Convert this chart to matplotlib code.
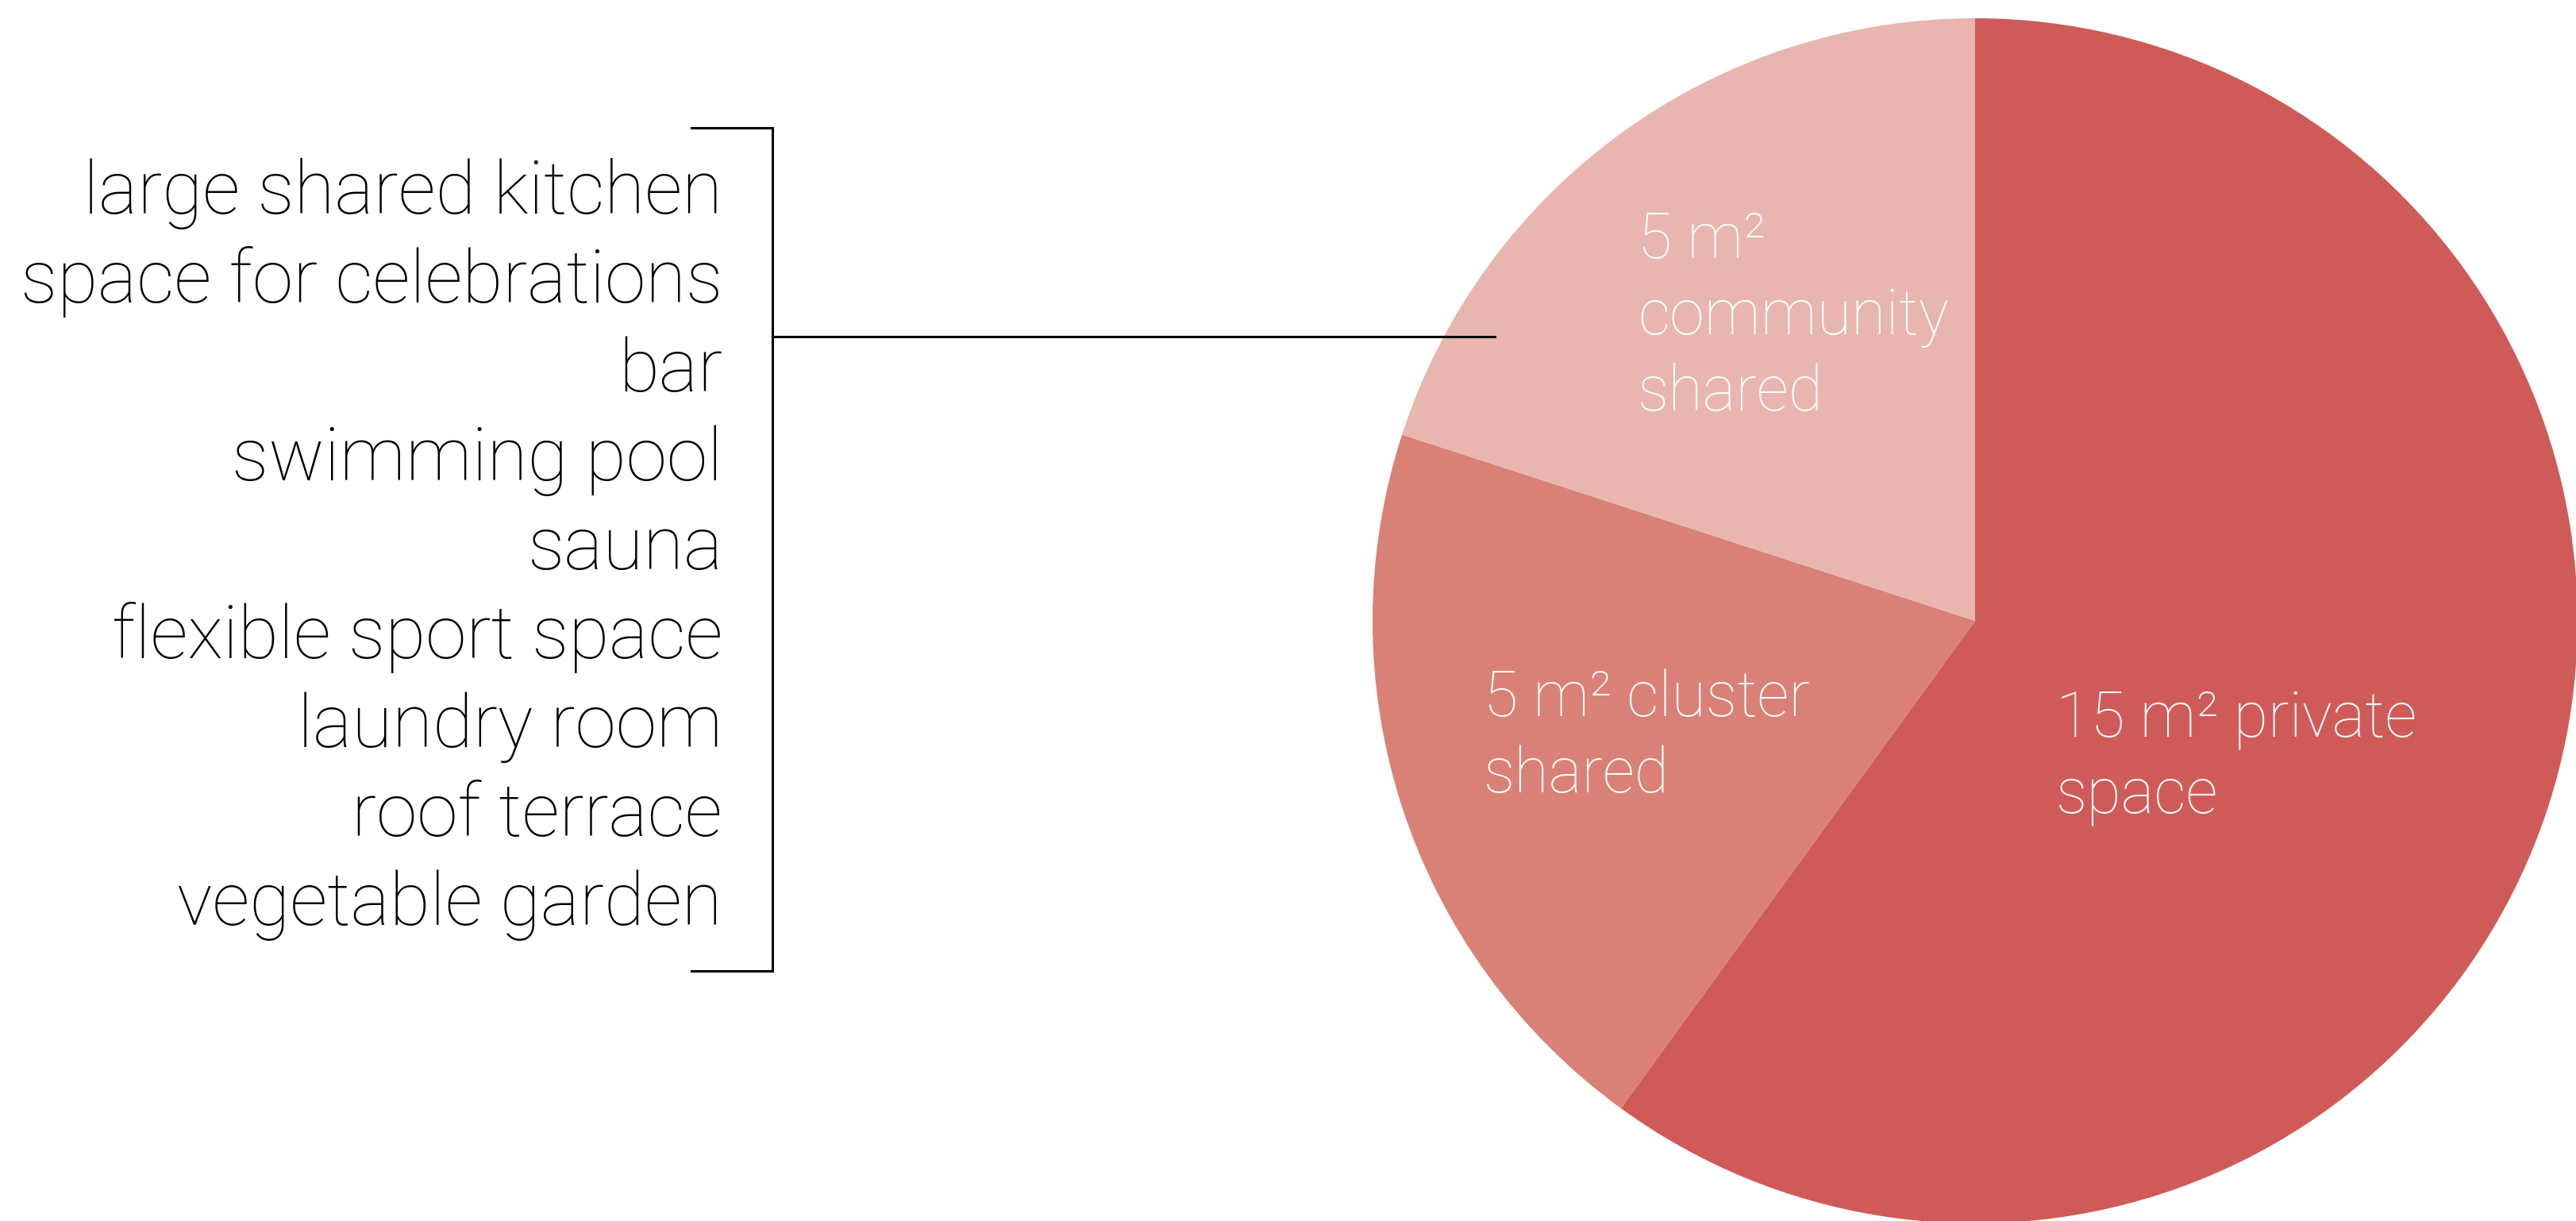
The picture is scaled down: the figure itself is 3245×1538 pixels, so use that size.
import matplotlib
matplotlib.use("Agg")
import matplotlib.pyplot as plt

# areas per person, clockwise from the top
areas = [15, 5, 5]
slice_colors = ["#CF5B59", "#D98176", "#E8B6AE"]
slice_labels = [["15 m² private", "space"],
                ["5 m² cluster", "shared"],
                ["5 m²", "community", "shared"]]

community_uses = ["large shared kitchen", "space for celebrations", "bar",
                  "swimming pool", "sauna", "flexible sport space",
                  "laundry room", "roof terrace", "vegetable garden"]

W, H = 3245, 1538
fig = plt.figure(figsize=(W / 100, H / 100), dpi=100)
ax = fig.add_axes([0, 0, 1, 1])

cx, cy, r = 2488, H - 782, 759
ax.pie(areas, colors=slice_colors, startangle=90, counterclock=False,
       center=(cx, cy), radius=r, wedgeprops=dict(linewidth=0))
ax.set_xlim(0, W)
ax.set_ylim(0, H)
ax.set_aspect("equal")
ax.axis("off")

font = dict(family="Roboto", fontweight=100, color="white", fontsize=57)

# labels inside the slices (x, first baseline in pixels from the top)
label_pos = [(2590, 927), (1869, 902), (2063, 325)]
for (x, y0), lines in zip(label_pos, slice_labels):
    for i, line in enumerate(lines):
        ax.text(x, H - (y0 + 96 * i), line, ha="left", va="baseline", **font)

# list of shared community rooms
for i, item in enumerate(community_uses):
    ax.text(910, H - (269 + 112 * i), item, ha="right", va="baseline",
            family="Roboto", fontweight=100, color="black", fontsize=67)

# bracket grouping the list, with a leader into the community slice
bx, top, bot = 973, H - 161, H - 1223
ax.plot([871, bx, bx, 871], [top, top, bot, bot], color="black", lw=2.2,
        solid_joinstyle="miter")
ax.plot([bx, 1883], [H - 424, H - 424], color="black", lw=2.2)

fig.savefig("out.png", dpi=100, facecolor="white")
